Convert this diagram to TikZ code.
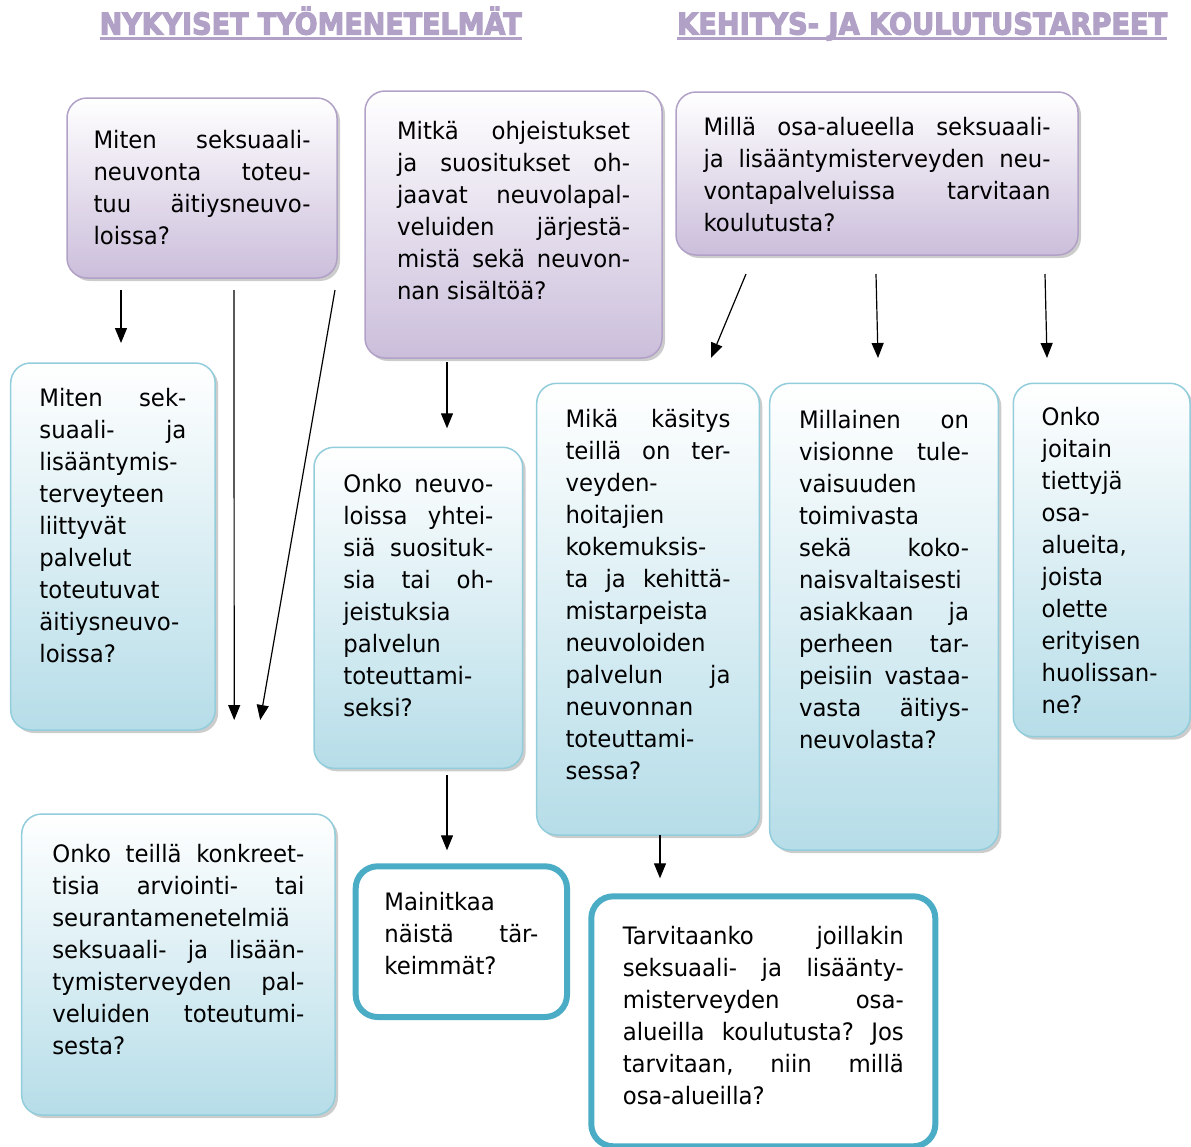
\documentclass[tikz,border=0pt]{standalone}
\usepackage{fontspec}
\setmainfont{DejaVu Sans}[FakeStretch=0.95]
\newfontfamily\hdrfont{DejaVu Sans}[BoldFeatures={FakeBold=4}]
\usepackage{graphicx}
\usetikzlibrary{arrows.meta,shadows}
\definecolor{lav}{HTML}{B2A1C7}
\definecolor{lavfill}{HTML}{CBBEDB}
\definecolor{bluebd}{HTML}{92CDDC}
\definecolor{bluefill}{HTML}{B6DDE8}
\definecolor{tealbd}{HTML}{4BACC6}
\newcommand\jline[1]{\hbox to\linewidth{#1}}
\newcommand\lline[1]{\hbox to\linewidth{#1\hfil}}
\newcommand\qtext[4]{\parbox[c][#2][t]{#1}{\fontsize{24pt}{32pt}\selectfont\vskip\dimexpr#3-32pt\relax\hbox{}#4}}
\tikzset{
  boxshadow/.style={drop shadow={shadow xshift=3pt, shadow yshift=-3pt, fill=black!40, opacity=.5}},
  pbox/.style={rounded corners=20pt, draw=lav, line width=1.5pt, top color=white, bottom color=lavfill, inner ysep=0pt, outer sep=0pt, boxshadow, anchor=north west},
  bbox/.style={rounded corners=20pt, draw=bluebd, line width=1.5pt, top color=white, bottom color=bluefill, inner ysep=0pt, outer sep=0pt, boxshadow, anchor=north west},
  tbox/.style={rounded corners=22pt, draw=tealbd, line width=6pt, fill=white, inner ysep=0pt, outer sep=0pt, anchor=north west},
  hdr/.style={text=lav, font=\fontsize{30pt}{36pt}\hdrfont\bfseries, inner sep=0pt, anchor=base west},
  hdrline/.style={draw=lav, line width=2.3pt},
  arr/.style={-{Triangle[width=12pt,length=15pt]}, line width=1.2pt, black}
}
\begin{document}
\begin{tikzpicture}[x=1pt,y=-1pt]
\useasboundingbox (0,0) rectangle (1191,1146);

% headers
\node[hdr] (h1) at (99.5,34.5) {\resizebox{422pt}{\height}{NYKYISET TYÖMENETELMÄT}};
\draw[hdrline] ([yshift=-4pt]h1.base west) -- ([yshift=-4pt]h1.base east);
\node[hdr] (h2) at (677,34.5) {\resizebox{490pt}{\height}{KEHITYS- JA KOULUTUSTARPEET}};
\draw[hdrline] ([yshift=-4pt]h2.base west) -- ([yshift=-4pt]h2.base east);

% purple boxes
\node[pbox, inner xsep=26.5pt] (A) at (67,98) {\qtext{217pt}{180pt}{50pt}{%
\jline{Miten\hfill seksuaali-}
\jline{neuvonta\hfill toteu-}
\jline{tuu\hfill äitiysneuvo-}
\lline{loissa?}}};

\node[pbox, inner xsep=32pt] (B) at (365,91) {\qtext{233pt}{267pt}{48.5pt}{%
\jline{Mitkä\hfill ohjeistukset}
\jline{ja\hfill suositukset\hfill oh-}
\jline{jaavat\hfill neuvolapal-}
\jline{veluiden\hfill järjestä-}
\jline{mistä\hfill sekä\hfill neuvon-}
\lline{nan sisältöä?}}};

\node[pbox, inner xsep=27.5pt] (C) at (676,92) {\qtext{347pt}{163pt}{43pt}{%
\jline{Millä\hfill osa-alueella\hfill seksuaali-}
\jline{ja\hfill lisääntymisterveyden\hfill neu-}
\jline{vontapalveluissa\hfill tarvitaan}
\lline{koulutusta?}}};

% blue boxes
\node[bbox, inner xsep=28.75pt] (D) at (10.7,363) {\qtext{147pt}{367pt}{43pt}{%
\jline{Miten\hfill sek-}
\jline{suaali-\hfill ja}
\lline{lisääntymis-}
\lline{terveyteen}
\lline{liittyvät}
\lline{palvelut}
\lline{toteutuvat}
\lline{äitiysneuvo-}
\lline{loissa?}}};

\node[bbox, inner xsep=29.35pt] (E) at (314,447.3) {\qtext{150pt}{321pt}{45.4pt}{%
\jline{Onko\hfill neuvo-}
\jline{loissa\hfill yhtei-}
\jline{siä\hfill suosituk-}
\jline{sia\hfill tai\hfill oh-}
\lline{jeistuksia}
\lline{palvelun}
\lline{toteuttami-}
\lline{seksi?}}};

\node[bbox, inner xsep=28.8pt] (F) at (536.7,383.3) {\qtext{165pt}{451.7pt}{44.4pt}{%
\jline{Mikä\hfill käsitys}
\jline{teillä\hfill on\hfill ter-}
\lline{veyden-}
\lline{hoitajien}
\lline{kokemuksis-}
\jline{ta\hfill ja\hfill kehittä-}
\lline{mistarpeista}
\lline{neuvoloiden}
\jline{palvelun\hfill ja}
\lline{neuvonnan}
\lline{toteuttami-}
\lline{sessa?}}};

\node[bbox, inner xsep=29.3pt] (G) at (769.7,383.3) {\qtext{170pt}{466.7pt}{45pt}{%
\jline{Millainen\hfill on}
\jline{visionne\hfill tule-}
\lline{vaisuuden}
\lline{toimivasta}
\jline{sekä\hfill koko-}
\lline{naisvaltaisesti}
\jline{asiakkaan\hfill ja}
\jline{perheen\hfill tar-}
\jline{peisiin\hfill vastaa-}
\jline{vasta\hfill äitiys-}
\lline{neuvolasta?}}};

\node[bbox, inner xsep=28.35pt] (H) at (1013.3,383.3) {\qtext{120pt}{353.4pt}{42.4pt}{%
\lline{Onko}
\lline{joitain}
\lline{tiettyjä}
\lline{osa-}
\lline{alueita,}
\lline{joista}
\lline{olette}
\lline{erityisen}
\lline{huolissan-}
\lline{ne?}}};

\node[bbox, inner xsep=30.65pt] (I) at (21.7,814) {\qtext{252pt}{301pt}{48.7pt}{%
\jline{Onko\hfill teillä\hfill konkreet-}
\jline{tisia\hfill arviointi-\hfill tai}
\lline{seurantamenetelmiä}
\jline{seksuaali-\hfill ja\hfill lisään-}
\jline{tymisterveyden\hfill pal-}
\jline{veluiden\hfill toteutumi-}
\lline{sesta?}}};

% teal boxes
\node[tbox, inner xsep=28.65pt] (J) at (355.7,866.3) {\qtext{154pt}{150.7pt}{44.4pt}{%
\lline{Mainitkaa}
\jline{näistä\hfill tär-}
\lline{keimmät?}}};

\node[tbox, inner xsep=31.5pt] (K) at (591.3,896.3) {\qtext{281pt}{250pt}{48pt}{%
\jline{Tarvitaanko\hfill joillakin}
\jline{seksuaali-\hfill ja\hfill lisäänty-}
\jline{misterveyden\hfill osa-}
\jline{alueilla\hfill koulutusta?\hfill Jos}
\jline{tarvitaan,\hfill niin\hfill millä}
\lline{osa-alueilla?}}};

% arrows
\draw[arr] ([xshift=54pt,yshift=-12pt]A.south west) -- ([xshift=110.3pt,yshift=20pt]D.north west);
\draw[arr] ([xshift=167pt,yshift=-12pt]A.south west) -- ([xshift=212.5pt,yshift=94pt]I.north west);
\draw[arr] ([xshift=268pt,yshift=-12pt]A.south west) -- ([xshift=238.5pt,yshift=94pt]I.north west);
\draw[arr] ([xshift=82pt,yshift=-4pt]B.south west) -- ([xshift=133pt,yshift=19pt]E.north west);
\draw[arr] ([xshift=133pt,yshift=-7pt]E.south west) -- ([xshift=91.3pt,yshift=16pt]J.north west);
\draw[arr] ([xshift=70pt,yshift=-19pt]C.south west) -- ([xshift=174.3pt,yshift=25.3pt]F.north west);
\draw[arr] ([xshift=200pt,yshift=-19pt]C.south west) -- ([xshift=108.3pt,yshift=25.3pt]G.north west);
\draw[arr] ([xshift=369pt,yshift=-19pt]C.south west) -- ([xshift=33.7pt,yshift=25.3pt]H.north west);
\draw[arr] ([xshift=123.3pt]F.south west) -- ([xshift=68.7pt,yshift=18pt]K.north west);
\end{tikzpicture}
\end{document}
